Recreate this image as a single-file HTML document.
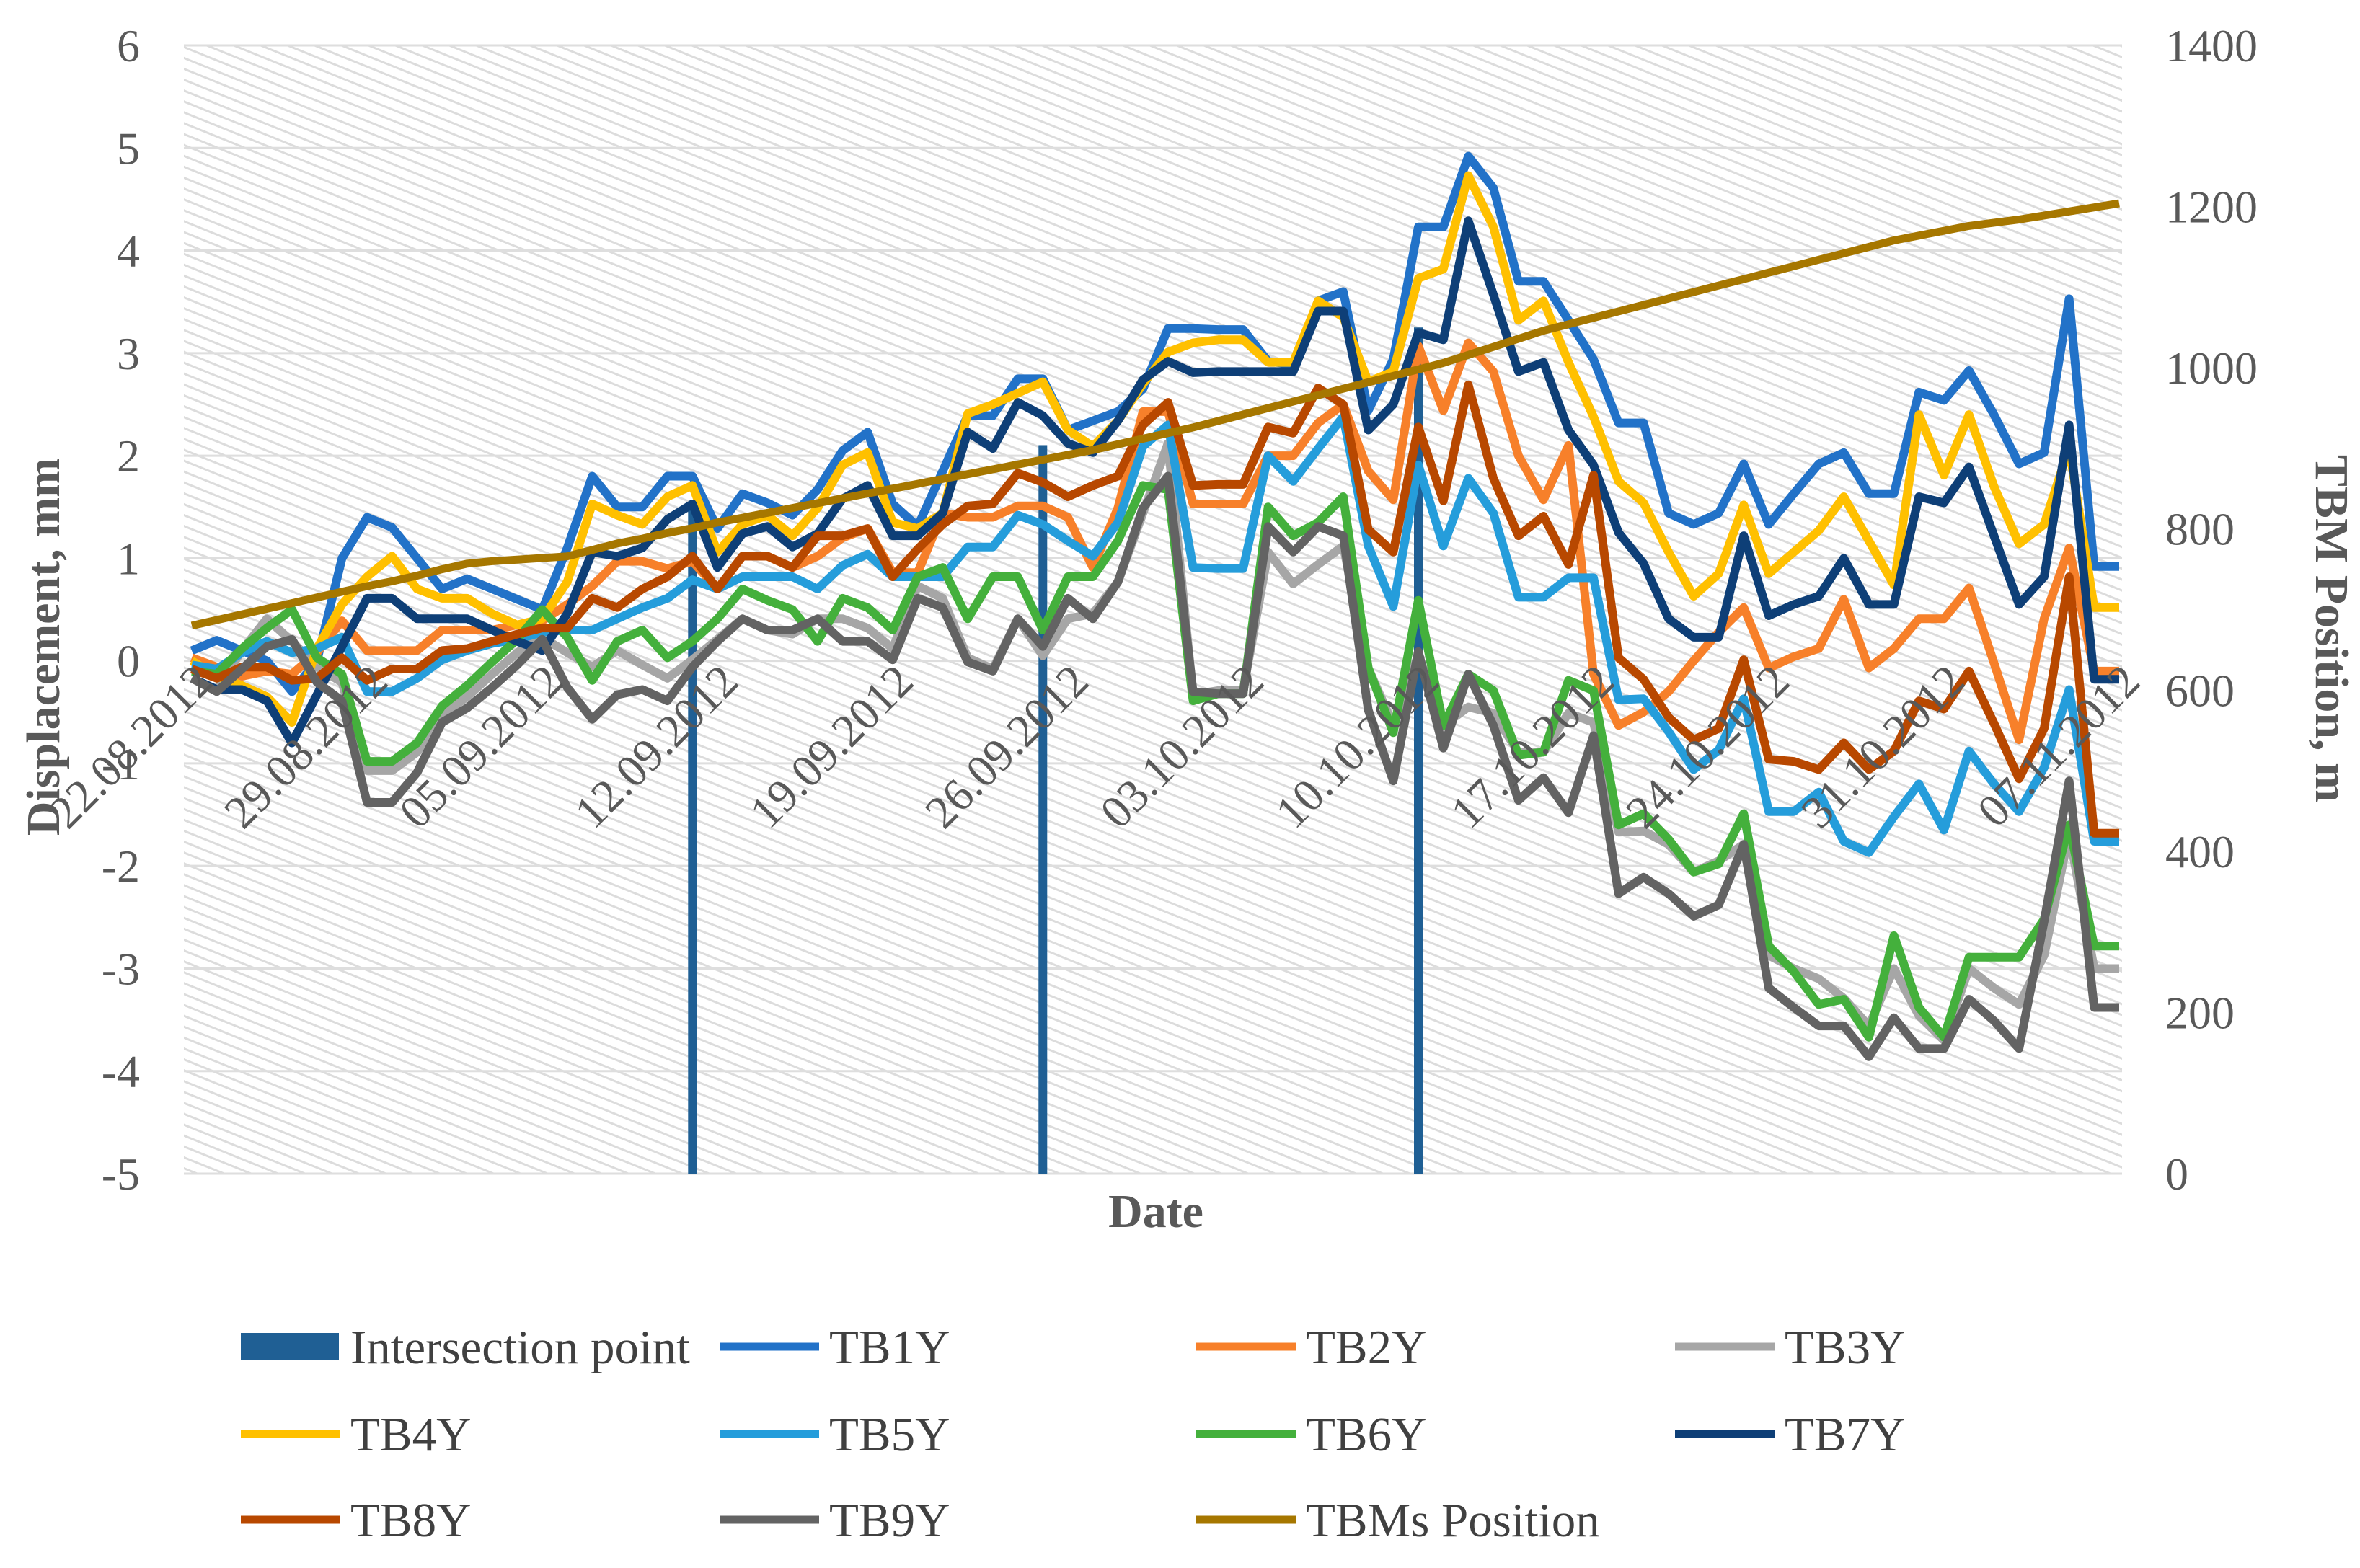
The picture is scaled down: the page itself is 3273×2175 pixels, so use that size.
<!DOCTYPE html>
<html><head><meta charset="utf-8"><style>
html,body{margin:0;padding:0;background:#fff;}
svg{display:block;font-family:"Liberation Serif",serif;}
</style></head><body>
<svg id="chart" width="3273" height="2175" viewBox="0 0 3273 2175" xmlns="http://www.w3.org/2000/svg">
<defs>
<pattern id="hatch" width="14" height="14" patternUnits="userSpaceOnUse" patternTransform="rotate(22)">
<rect width="14" height="14" fill="#ffffff"/>
<line x1="0" y1="7" x2="14" y2="7" stroke="#dcdcdc" stroke-width="3"/>
</pattern>
</defs>
<rect x="255" y="63" width="2688" height="1565" fill="url(#hatch)"/>
<g id="grid"></g><g id="bars"></g><g id="lines"></g><g id="ticks"></g><g id="legend"></g>
<text x="82" y="897" transform="rotate(-90 82 897)" text-anchor="middle" font-size="66" font-weight="bold" fill="#595959">Displacement, mm</text>
<text x="3212" y="872" transform="rotate(90 3212 872)" text-anchor="middle" font-size="66" font-weight="bold" fill="#595959">TBM Position, m</text>
<text x="1603" y="1702" text-anchor="middle" font-size="66" font-weight="bold" fill="#595959">Date</text>
</svg>
<script>
const dateLabels = ["22.08.2012","29.08.2012","05.09.2012","12.09.2012","19.09.2012","26.09.2012","03.10.2012","10.10.2012","17.10.2012","24.10.2012","31.10.2012","07.11.2012"];
const leftTicks = [-5,-4,-3,-2,-1,0,1,2,3,4,5,6];
const rightTicks = [0,200,400,600,800,1000,1200,1400];
const tb1 = [0.1,0.2,0.1,0.0,-0.3,0.0,1.0,1.4,1.3,1.0,0.7,0.8,0.7,0.6,0.5,1.1,1.8,1.5,1.5,1.8,1.8,1.29,1.63,1.54,1.42,1.67,2.05,2.23,1.53,1.31,1.85,2.39,2.39,2.75,2.75,2.25,2.34,2.43,2.65,3.24,3.24,3.23,3.23,2.92,2.89,3.51,3.6,2.44,2.94,4.23,4.23,4.92,4.61,3.7,3.7,3.32,2.94,2.32,2.32,1.44,1.33,1.44,1.92,1.33,1.63,1.92,2.03,1.63,1.63,2.62,2.54,2.83,2.4,1.92,2.03,3.53,0.92,0.92];
const tb2 = [0.03,-0.06,-0.15,-0.1,-0.13,0.08,0.39,0.1,0.1,0.1,0.3,0.3,0.3,0.35,0.39,0.55,0.73,0.97,0.97,0.9,0.97,0.7,1.02,1.02,0.91,1.02,1.2,1.29,0.86,0.86,1.44,1.4,1.4,1.51,1.51,1.4,0.91,1.49,2.43,2.43,1.53,1.53,1.53,2.0,2.0,2.32,2.5,1.85,1.57,3.07,2.44,3.1,2.82,2.0,1.57,2.1,-0.13,-0.63,-0.5,-0.3,0.0,0.28,0.52,-0.07,0.04,0.12,0.6,-0.07,0.12,0.41,0.41,0.71,-0.02,-0.77,0.41,1.1,-0.1,-0.1];
const tb3 = [-0.17,-0.28,0.1,0.41,0.19,-0.06,-0.21,-1.07,-1.07,-0.89,-0.53,-0.35,-0.13,0.08,0.23,0.08,-0.06,0.1,-0.04,-0.17,0.01,0.21,0.41,0.3,0.26,0.41,0.41,0.32,0.12,0.73,0.61,0.03,-0.08,0.41,0.05,0.41,0.46,0.77,1.44,2.12,-0.33,-0.29,-0.29,1.06,0.75,0.94,1.12,-0.07,-0.63,0.06,-0.63,-0.45,-0.51,-0.89,-0.89,-0.51,-0.6,-1.67,-1.66,-1.79,-2.06,-1.95,-1.79,-2.87,-3.0,-3.1,-3.29,-3.56,-3.0,-3.46,-3.7,-3.0,-3.19,-3.35,-2.87,-1.68,-3.0,-3.0];
const tb4 = [0.0,-0.15,-0.24,-0.35,-0.6,0.12,0.55,0.82,1.02,0.7,0.61,0.61,0.46,0.35,0.41,0.77,1.53,1.42,1.33,1.6,1.71,1.06,1.33,1.42,1.22,1.49,1.91,2.03,1.35,1.29,1.44,2.41,2.5,2.61,2.72,2.25,2.09,2.34,2.7,3.01,3.1,3.13,3.13,2.91,2.91,3.51,3.35,2.72,2.82,3.73,3.82,4.73,4.23,3.32,3.51,2.91,2.38,1.75,1.54,1.06,0.63,0.85,1.52,0.85,1.06,1.27,1.6,1.17,0.74,2.4,1.81,2.4,1.7,1.14,1.33,2.08,0.52,0.52];
const tb5 = [-0.04,-0.08,0.08,0.19,0.08,0.12,0.23,-0.3,-0.3,-0.17,0.01,0.1,0.17,0.21,0.28,0.3,0.3,0.41,0.52,0.61,0.79,0.7,0.82,0.82,0.82,0.7,0.93,1.04,0.82,0.82,0.82,1.11,1.11,1.42,1.33,1.17,1.02,1.35,2.09,2.3,0.91,0.9,0.9,2.0,1.75,2.07,2.38,1.12,0.53,1.91,1.12,1.78,1.44,0.62,0.62,0.81,0.81,-0.38,-0.37,-0.69,-1.06,-0.87,-0.37,-1.47,-1.47,-1.28,-1.76,-1.87,-1.52,-1.2,-1.65,-0.88,-1.2,-1.47,-1.04,-0.28,-1.76,-1.76];
const tb6 = [-0.1,-0.13,0.12,0.32,0.5,0.03,-0.13,-0.98,-0.98,-0.8,-0.44,-0.24,-0.01,0.21,0.5,0.23,-0.19,0.19,0.3,0.03,0.19,0.41,0.7,0.59,0.5,0.19,0.61,0.52,0.3,0.82,0.91,0.41,0.82,0.82,0.3,0.82,0.82,1.17,1.71,1.67,-0.39,-0.32,-0.32,1.5,1.22,1.35,1.6,-0.07,-0.7,0.59,-0.63,-0.13,-0.29,-0.92,-0.89,-0.19,-0.29,-1.6,-1.49,-1.74,-2.06,-1.98,-1.49,-2.78,-3.03,-3.35,-3.3,-3.67,-2.68,-3.38,-3.67,-2.89,-2.89,-2.89,-2.52,-1.6,-2.78,-2.78];
const tb7 = [-0.17,-0.28,-0.28,-0.39,-0.8,-0.33,0.14,0.61,0.61,0.41,0.41,0.41,0.3,0.19,0.1,0.46,1.06,1.02,1.1,1.38,1.53,0.91,1.24,1.31,1.11,1.24,1.58,1.71,1.22,1.22,1.44,2.23,2.07,2.52,2.39,2.12,2.03,2.34,2.74,2.92,2.81,2.82,2.82,2.82,2.82,3.41,3.41,2.25,2.5,3.2,3.13,4.29,3.57,2.82,2.91,2.25,1.91,1.25,0.95,0.41,0.23,0.23,1.22,0.44,0.55,0.63,1.0,0.55,0.55,1.6,1.54,1.89,1.22,0.55,0.82,2.3,-0.18,-0.18];
const tb8 = [-0.08,-0.17,-0.06,-0.06,-0.19,-0.17,0.03,-0.19,-0.08,-0.08,0.1,0.12,0.19,0.26,0.32,0.32,0.61,0.52,0.7,0.82,1.02,0.7,1.02,1.02,0.91,1.22,1.22,1.29,0.82,1.09,1.33,1.51,1.53,1.83,1.74,1.6,1.71,1.8,2.3,2.52,1.71,1.72,1.72,2.28,2.22,2.66,2.5,1.28,1.06,2.28,1.56,2.69,1.78,1.22,1.41,0.94,1.81,0.03,-0.18,-0.55,-0.77,-0.66,0.01,-0.96,-0.98,-1.06,-0.8,-1.06,-0.88,-0.39,-0.47,-0.1,-0.61,-1.15,-0.66,0.82,-1.68,-1.68];
const tb9 = [-0.17,-0.3,-0.08,0.14,0.21,-0.21,-0.39,-1.38,-1.38,-1.09,-0.6,-0.46,-0.26,-0.04,0.21,-0.26,-0.57,-0.33,-0.28,-0.39,-0.06,0.19,0.41,0.3,0.3,0.41,0.19,0.19,0.01,0.61,0.52,-0.01,-0.1,0.41,0.14,0.61,0.41,0.77,1.49,1.8,-0.3,-0.32,-0.32,1.31,1.06,1.31,1.22,-0.48,-1.17,0.09,-0.85,-0.13,-0.63,-1.36,-1.14,-1.48,-0.73,-2.27,-2.11,-2.27,-2.49,-2.38,-1.79,-3.19,-3.38,-3.56,-3.56,-3.86,-3.48,-3.78,-3.78,-3.3,-3.51,-3.78,-2.54,-1.17,-3.38,-3.38];
const tbm = [680,687,694,701,708,715,722,729,735,742,750,757,760,762,764,766,774,782,788,795,801,808,814,820,826,832,838,844,850,856,862,868,874,880,886,892,898,905,912,919,926,934,942,950,958,966,974,982,990,998,1006,1016,1026,1036,1046,1054,1062,1070,1078,1086,1094,1102,1110,1118,1126,1134,1142,1150,1158,1164,1170,1176,1180,1184,1189,1194,1199,1204];
const intersectionIdx = [20,34,49];
const intersectionVal = [825,904,1050];

const NS="http://www.w3.org/2000/svg";
const L=255,R=2943,T=63,B=1628;
const N=tb1.length;
function xs(i){return 266+i*(2939-266)/(N-1);}
function yl(v){return T+(6-v)*(B-T)/11;}
function yr(v){return B-v*(B-T)/1400;}
function mk(tag,attrs,parent){const e=document.createElementNS(NS,tag);for(const k in attrs)e.setAttribute(k,attrs[k]);parent.appendChild(e);return e;}
const grid=document.getElementById('grid'),ticks=document.getElementById('ticks'),bars=document.getElementById('bars'),lines=document.getElementById('lines'),legend=document.getElementById('legend');
leftTicks.forEach(v=>{
  const g=mk('line',{x1:L,x2:R,y1:yl(v),y2:yl(v),stroke:'#dedede','stroke-width':3},grid);
  
  
  const t=mk('text',{x:194,y:yl(v)+22,'text-anchor':'end','font-size':64,fill:'#595959'},ticks);
  t.textContent=String(v);
  
  
});
rightTicks.forEach(v=>{
  const t=mk('text',{x:3003,y:yr(v)+22,'text-anchor':'start','font-size':64,fill:'#595959'},ticks);
  t.textContent=String(v);
  
  
});
dateLabels.forEach((d,k)=>{
  const x=xs(k*7)+32,y=yl(0)+32;
  const t=mk('text',{x:x,y:y,'text-anchor':'end','font-size':64,fill:'#595959',transform:`rotate(-45 ${x} ${y})`},ticks);
  t.textContent=d;
  
  
});
intersectionIdx.forEach((idx,k)=>{
  const b=mk('rect',{x:xs(idx)-6,y:yr(intersectionVal[k]),width:12,height:B-yr(intersectionVal[k]),fill:'#1F5F94'},bars);
  
  
});
const series=[
 ['TB1Y',tb1,'#2272C8','tb1y-line'],['TB2Y',tb2,'#F7802A','tb2y-line'],['TB3Y',tb3,'#A6A6A6','tb3y-line'],
 ['TB4Y',tb4,'#FFC000','tb4y-line'],['TB5Y',tb5,'#259DDB','tb5y-line'],['TB6Y',tb6,'#44B03C','tb6y-line'],
 ['TB7Y',tb7,'#0E3F77','tb7y-line'],['TB8Y',tb8,'#B84800','tb8y-line'],['TB9Y',tb9,'#636363','tb9y-line']];
series.forEach(s=>{
  const p=mk('polyline',{points:s[1].map((v,i)=>xs(i).toFixed(1)+','+yl(v).toFixed(1)).join(' '),fill:'none',stroke:s[2],'stroke-width':12,'stroke-linejoin':'round'},lines);
  
  
});
const pm=mk('polyline',{points:tbm.map((v,i)=>xs(i).toFixed(1)+','+yr(v).toFixed(1)).join(' '),fill:'none',stroke:'#A67700','stroke-width':11,'stroke-linejoin':'round'},lines);


const legItems=[['Intersection point','#1F5F94',1],['TB1Y','#2272C8',0],['TB2Y','#F7802A',0],['TB3Y','#A6A6A6',0],
 ['TB4Y','#FFC000',0],['TB5Y','#259DDB',0],['TB6Y','#44B03C',0],['TB7Y','#0E3F77',0],
 ['TB8Y','#B84800',0],['TB9Y','#636363',0],['TBMs Position','#A67700',0]];
const colX=[334,998,1659,2323],rowY=[1868,1989,2108];
legItems.forEach((it,k)=>{
  const c=k%4,r=Math.floor(k/4),x=colX[c],y=rowY[r];
  const g=mk('g',{},legend);
  
  
  if(it[2]) mk('rect',{x:x,y:y-19,width:136,height:38,fill:it[1]},g);
  else mk('line',{x1:x,x2:x+138,y1:y,y2:y,stroke:it[1],'stroke-width':11},g);
  const t=mk('text',{x:x+152,y:y+23,'font-size':67,fill:'#404040'},g);
  t.textContent=it[0];
});
</script>
</body></html>
